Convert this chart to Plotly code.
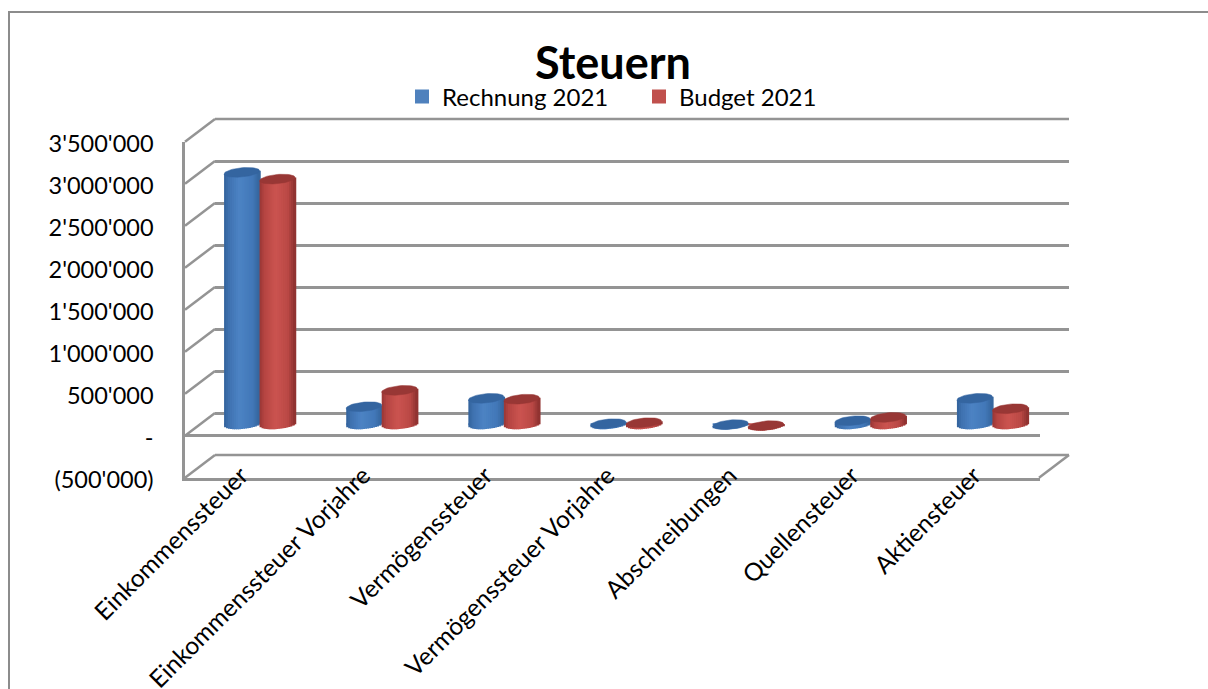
import math
import plotly.graph_objects as go

categories = ["Einkommenssteuer", "Einkommenssteuer Vorjahre", "Vermögenssteuer",
              "Vermögenssteuer Vorjahre", "Abschreibungen", "Quellensteuer", "Aktiensteuer"]
rechnung_2021 = [3000000, 210000, 310000, 8000, -3000, 43000, 310000]
budget_2021 = [2920000, 405000, 300000, 20000, -15000, 83000, 186000]
tick_values = [-500000, 0, 500000, 1000000, 1500000, 2000000, 2500000, 3000000, 3500000]
tick_labels = ["(500'000)", "-", "500'000", "1'000'000", "1'500'000", "2'000'000",
               "2'500'000", "3'000'000", "3'500'000"]

W, H = 1208, 689
FRONT_L, FRONT_R, FRONT_T, FRONT_B = 185, 1040, 141.7, 477.7
DX, DY = 30, 22.7            # depth of the 3D box
BDX, BDY = 13.5, 11.35       # bars stand in the middle of the depth
UNIT = 500000 / 42           # data units per pixel
BAR_W = 35.5 / ((FRONT_R - FRONT_L) / 7)
B_PX, T_PX = 4.6, 1.6        # ellipse half height and tilt, pixels
GRID = "#949494"
FONT = "Lato, Carlito, Calibri, sans-serif"


def hx(p):
    return p / W


def vy(p):
    return 1 - p / H


def front_px(v):
    """Pixel row of value v on the front face of the box."""
    return FRONT_B - (v - tick_values[0]) / UNIT


def lerp_stops(stops, u):
    for (a, ca), (b, cb) in zip(stops, stops[1:]):
        if a <= u <= b:
            t = (u - a) / (b - a)
            return "rgb(%d,%d,%d)" % tuple(round(x + (y - x) * t) for x, y in zip(ca, cb))
    return "rgb(%d,%d,%d)" % stops[-1][1]


blue_stops = [(-1, (50, 98, 155)), (-0.75, (62, 113, 175)), (-0.15, (76, 131, 196)),
              (0.6, (66, 120, 184)), (1, (52, 100, 155))]
red_stops = [(-1, (150, 54, 52)), (-0.75, (180, 68, 65)), (-0.1, (203, 84, 80)),
             (0.6, (186, 72, 69)), (1, (138, 48, 46))]
series = [
    ("Rechnung 2021", rechnung_2021, "#4F81BD", blue_stops, "#3465A0", -1),
    ("Budget 2021", budget_2021, "#C0504D", red_stops, "#983735", 0),
]

fig = go.Figure()

# back wall: carries the grid only
fig.add_trace(go.Scatter(x=[0, 1], y=[0, 0], mode="none", xaxis="x", yaxis="y",
                         showlegend=False, hoverinfo="skip"))
# front axes: carries the labels
fig.add_trace(go.Scatter(x=categories, y=rechnung_2021, mode="none", xaxis="x2", yaxis="y2",
                         showlegend=False, hoverinfo="skip"))

idx = list(range(len(categories)))
N = 18
for name, values, color, stops, cap, side in series:
    fig.add_trace(go.Bar(x=idx, y=[0] * len(values), name=name, marker_color=color,
                         marker_line=dict(color=color, width=2), width=BAR_W,
                         offset=side * BAR_W, xaxis="x3", yaxis="y3", hoverinfo="skip"))
    for k in range(N):
        u = -1 + (2 * k + 1) / N
        base = [min(v, 0) + T_PX * UNIT * u - B_PX * UNIT * math.sqrt(1 - u * u) for v in values]
        top = [v + T_PX * UNIT * u for v in values]
        left = side * BAR_W + k / N * BAR_W
        fig.add_trace(go.Bar(x=idx, y=[t - b for t, b in zip(top, base)], base=base,
                             width=BAR_W / N * 1.6, offset=left, marker_color=lerp_stops(stops, u),
                             marker_line_width=0, xaxis="x3", yaxis="y3",
                             showlegend=False, hoverinfo="skip"))
    # cap ellipses
    for i, v in zip(idx, values):
        xs, ys = [], []
        for a in range(49):
            th = 2 * math.pi * a / 48
            cu = math.cos(th)
            xs.append(i + side * BAR_W + (cu + 1) / 2 * BAR_W)
            ys.append(v + T_PX * UNIT * cu + B_PX * UNIT * math.sin(th))
        fig.add_trace(go.Scatter(x=xs, y=ys, mode="lines", fill="toself", fillcolor=cap,
                                 line=dict(color=cap, width=0.5), xaxis="x3", yaxis="y3",
                                 showlegend=False, hoverinfo="skip"))

LW = 2.5
shapes = [dict(type="rect", xref="paper", yref="paper", x0=hx(9), x1=1.05, y0=-0.05, y1=vy(12),
               line=dict(color="#8c8c8c", width=2), layer="below")]
for v in tick_values:
    p = front_px(v)
    shapes.append(dict(type="line", xref="paper", yref="paper", x0=hx(FRONT_L), x1=hx(FRONT_L + DX),
                       y0=vy(p), y1=vy(p - DY), line=dict(color=GRID, width=LW), layer="below"))
p = front_px(tick_values[0])
shapes.append(dict(type="line", xref="paper", yref="paper", x0=hx(FRONT_R - 1), x1=hx(FRONT_R - 1 + DX),
                   y0=vy(p), y1=vy(p - DY), line=dict(color=GRID, width=LW), layer="below"))
# back wall edge lines that the axis does not draw at the ends of its range
for v in (tick_values[0], tick_values[-1]):
    p = front_px(v) - DY
    shapes.append(dict(type="line", xref="paper", yref="paper", x0=hx(FRONT_L + DX), x1=hx(FRONT_R - 1 + DX),
                       y0=vy(p), y1=vy(p), line=dict(color=GRID, width=LW), layer="below"))

y_range = [-500000, 3500000]
x_range = [-0.5, len(categories) - 0.5]
fig.update_layout(
    width=W, height=H, autosize=False,
    margin=dict(l=0, r=0, t=0, b=0, autoexpand=False),
    paper_bgcolor="white", plot_bgcolor="rgba(0,0,0,0)",
    barmode="overlay", shapes=shapes,
    font=dict(family=FONT, color="black", size=24),
    title=dict(text="<b>Steuern</b>", font=dict(family=FONT, size=45, color="black"),
               x=613 / W, xanchor="center", y=vy(63), yanchor="middle"),
    legend=dict(orientation="h", x=hx(402), y=vy(97), xanchor="left", yanchor="middle",
                font=dict(family=FONT, size=24), bgcolor="rgba(0,0,0,0)",
                entrywidth=192, entrywidthmode="pixels", itemclick=False, itemdoubleclick=False),
    xaxis=dict(domain=[hx(FRONT_L + DX), hx(FRONT_R + DX - 1)], range=[0, 1], visible=False),
    yaxis=dict(domain=[vy(FRONT_B - DY), vy(FRONT_T - DY)], range=y_range, tickvals=tick_values,
               showticklabels=False, showgrid=True, gridcolor=GRID, gridwidth=LW, zeroline=False,
               ticks="", showline=False, anchor="x"),
    xaxis2=dict(domain=[hx(FRONT_L), hx(FRONT_R)], type="category", categoryorder="array",
                categoryarray=categories, range=x_range, showgrid=False, showline=True,
                linecolor=GRID, linewidth=LW, tickangle=-45, ticks="", anchor="y2",
                tickfont=dict(size=24.5, family=FONT), ticklabelstandoff=-29, ticklabelshift=-5),
    yaxis2=dict(domain=[vy(FRONT_B), vy(FRONT_T)], range=y_range, tickvals=tick_values,
                ticktext=tick_labels, showgrid=False, showline=True, linecolor=GRID, linewidth=LW,
                zeroline=True, zerolinecolor=GRID, zerolinewidth=LW, ticks="", anchor="x2",
                ticklabelstandoff=24, ticklabelshift=2, tickfont=dict(size=23.5, family=FONT)),
    xaxis3=dict(domain=[hx(FRONT_L + BDX), hx(FRONT_R + BDX)], range=x_range, visible=False, anchor="y3"),
    yaxis3=dict(domain=[vy(FRONT_B - BDY), vy(FRONT_T - BDY)], range=y_range, visible=False, anchor="x3"),
)

fig.write_html("out.html", config=dict(displayModeBar=False),
               post_script="document.body.style.margin='0';document.body.style.overflow='hidden';")
